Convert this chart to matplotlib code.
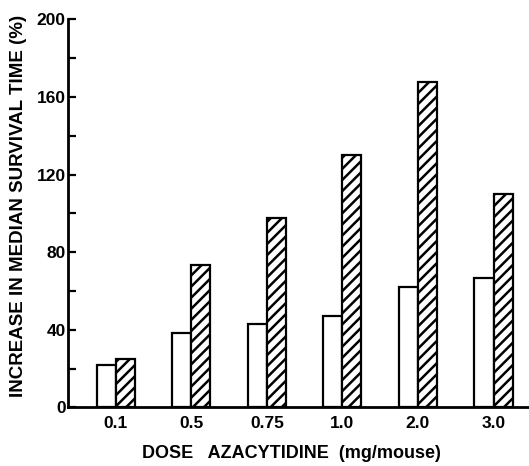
import matplotlib
matplotlib.use("Agg")
import matplotlib.pyplot as plt
import numpy as np

plt.rcParams['font.family'] = ['Liberation Sans', 'DejaVu Sans']
plt.rcParams['hatch.linewidth'] = 1.8

doses = ["0.1", "0.5", "0.75", "1.0", "2.0", "3.0"]
open_vals = [22, 38.5, 43, 47, 62, 66.5]
hatched_vals = [25, 73.5, 97.5, 130, 167.5, 110]
y_major = [0, 40, 80, 120, 160, 200]
y_minor = [20, 60, 100, 140, 180]

fig = plt.figure(figsize=(5.29, 4.66), dpi=100)
ax = fig.add_axes([68.3 / 529, (466 - 407.3) / 466, (529 - 68.3) / 529, 388 / 466])

x = np.arange(len(doses))
w = 0.252
ax.bar(x - w / 2, open_vals, width=w, facecolor='white', edgecolor='black', linewidth=1.6)
ax.bar(x + w / 2, hatched_vals, width=w, facecolor='white', edgecolor='black', linewidth=1.6, hatch='///')

ax.set_xlim(-0.63, 5.47)
ax.set_ylim(0, 200)
ax.set_xticks(x)
ax.set_xticklabels(doses, fontsize=12.5, fontweight='bold')
ax.set_yticks(y_major)
ax.set_yticklabels([str(v) for v in y_major], fontsize=12.5, fontweight='bold')
ax.set_yticks(y_minor, minor=True)
ax.tick_params(axis='x', length=0, pad=6)
ax.tick_params(axis='y', which='both', direction='in', length=5.5, width=1.6, pad=2)

for s in ['top', 'right']:
    ax.spines[s].set_visible(False)
ax.spines['left'].set_linewidth(2.0)
ax.spines['bottom'].set_linewidth(2.0)

fig.text(18.5 / 529, 1 - 206 / 466, "INCREASE IN MEDIAN SURVIVAL TIME (%)", rotation=90,
         ha='center', va='center', fontsize=13.5, fontweight='bold')
fig.text(291.5 / 529, 1 - 453 / 466, "DOSE   AZACYTIDINE  (mg/mouse)",
         ha='center', va='center', fontsize=13, fontweight='bold')

fig.savefig("out.png", dpi=100)
